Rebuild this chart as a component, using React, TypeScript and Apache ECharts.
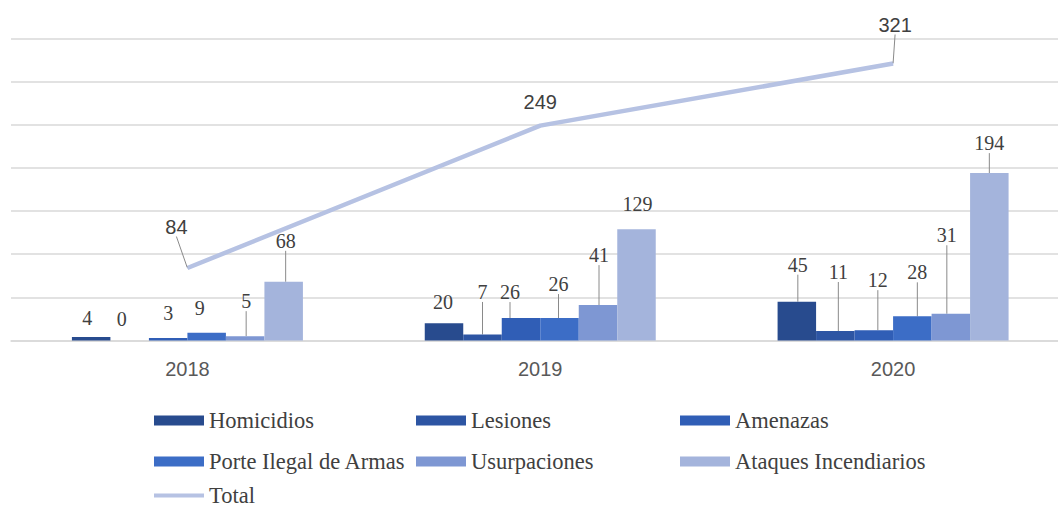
import React, { useEffect, useRef } from "react";
import * as echarts from "echarts";

const years = ["2018", "2019", "2020"];
const homicidios = [4, 20, 45];
const lesiones = [0, 7, 11];
const amenazas = [3, 26, 12];
const porteIlegal = [9, 26, 28];
const usurpaciones = [5, 41, 31];
const ataques = [68, 129, 194];
const total = [84, 249, 321];

const barSeriesDefs = [
  { name: "Homicidios", values: homicidios, color: "#284b8e" },
  { name: "Lesiones", values: lesiones, color: "#2d55a3" },
  { name: "Amenazas", values: amenazas, color: "#305eb6" },
  { name: "Porte Ilegal de Armas", values: porteIlegal, color: "#3c6dc6" },
  { name: "Usurpaciones", values: usurpaciones, color: "#7e97d3" },
  { name: "Ataques Incendiarios", values: ataques, color: "#a4b4dc" },
];

// label layout tweaks (dx, dy) and whether a leader line is shown
const labelShift: number[][][] = [
  [[-4, -4], [-1, -6], [1, -22]],
  [[-8, -6.5], [0, -27.5], [3, -44]],
  [[0, -10], [-11, -11], [4, -35]],
  [[-7, -10], [-1, -19], [5, -29]],
  [[1, -20], [1, -35], [-4, -63.5]],
  [[2, -26], [1, -10], [0, -15]],
  [[-11, -26], [0, -8], [2, -23.5]],
];
const leader: boolean[][] = [
  [false, false, true],
  [false, true, true],
  [false, true, true],
  [false, true, true],
  [true, true, true],
  [true, false, true],
  [true, false, true],
];

const leaderStyle = { color: "#8a8a8a", width: 1 };

export default function App() {
  const ref = useRef<HTMLDivElement>(null);
  useEffect(() => {
    document.body.style.margin = "0";
    document.body.style.overflow = "hidden";
    document.documentElement.style.overflow = "hidden";
    if (!ref.current) return;
    const chart = echarts.init(ref.current, undefined, { renderer: "svg" });
    const series: any[] = barSeriesDefs.map((d, si) => ({
      type: "bar",
      name: d.name,
      barWidth: 38.5,
      barGap: "0%",
      itemStyle: { color: d.color },
      data: d.values.map((v, i) => ({
        value: v,
        labelLine: { show: leader[si][i], lineStyle: leaderStyle },
      })),
      label: {
        show: true,
        position: "top",
        distance: 5,
        fontFamily: "Liberation Serif",
        fontSize: 20,
        color: "#404040",
      },
      labelLine: { show: true, lineStyle: leaderStyle },
      labelLayout: (p: any) => ({
        dx: labelShift[si][p.dataIndex][0],
        dy: labelShift[si][p.dataIndex][1],
      }),
    }));
    series.push({
      type: "line",
      name: "Total",
      symbol: "circle",
      symbolSize: 1,
      showSymbol: true,
      lineStyle: { color: "#b6c2e3", width: 4.5 },
      itemStyle: { color: "#b6c2e3" },
      z: 5,
      data: total.map((v, i) => ({
        value: v,
        labelLine: { show: leader[6][i], lineStyle: leaderStyle },
      })),
      label: {
        show: true,
        position: "top",
        distance: 5,
        fontFamily: "Liberation Sans",
        fontSize: 20,
        color: "#404040",
      },
      labelLine: { show: true, lineStyle: leaderStyle },
      labelLayout: (p: any) => ({
        dx: labelShift[6][p.dataIndex][0],
        dy: labelShift[6][p.dataIndex][1],
      }),
    });

    const legendText = {
      fontFamily: "Liberation Serif",
      fontSize: 22.5,
      color: "#404040",
    };
    const legendBase = {
      orient: "vertical" as const,
      itemWidth: 50,
      itemHeight: 10,
      itemGap: 18,
      icon: "rect",
      padding: 0,
      textStyle: legendText,
      selectedMode: false,
      top: 409,
    };

    chart.setOption({
      animation: false,
      backgroundColor: "#ffffff",
      grid: { left: 11, right: 0.5, top: 38.5, bottom: 169.5, containLabel: false },
      xAxis: {
        type: "category",
        data: years,
        axisLine: { show: true, lineStyle: { color: "#d9d9d9", width: 1.5 } },
        axisTick: { show: false },
        axisLabel: {
          margin: 18,
          fontFamily: "Liberation Sans",
          fontSize: 20,
          color: "#595959",
        },
      },
      yAxis: {
        type: "value",
        min: 0,
        max: 350,
        interval: 50,
        axisLabel: { show: false },
        axisLine: { show: false },
        axisTick: { show: false },
        splitLine: { lineStyle: { color: "#d9d9d9", width: 1.5 } },
      },
      legend: [
        { ...legendBase, left: 154, data: ["Homicidios", "Porte Ilegal de Armas"] },
        { ...legendBase, left: 416, data: ["Lesiones", "Usurpaciones"] },
        { ...legendBase, left: 680, data: ["Amenazas", "Ataques Incendiarios"] },
        {
          ...legendBase,
          left: 154,
          top: 484,
          itemHeight: 4,
          textStyle: { ...legendText, lineHeight: 18 },
          data: ["Total"],
        },
      ],
      series,
    });
    return () => chart.dispose();
  }, []);
  return <div ref={ref} style={{ width: 1070, height: 510 }} />;
}
